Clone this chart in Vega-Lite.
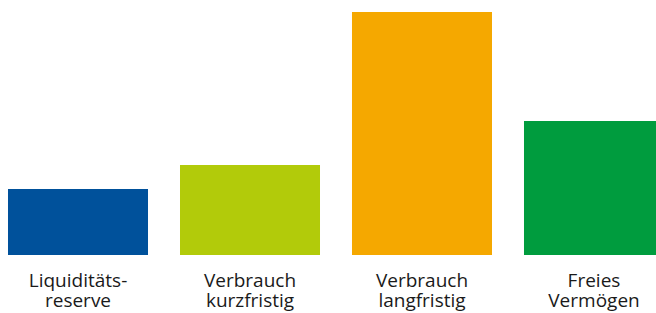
{
  "$schema": "https://vega.github.io/schema/vega-lite/v6.json",
  "width": 672,
  "height": 255,
  "padding": {"left": 0, "top": 0, "right": 0, "bottom": 58},
  "autosize": "none",
  "background": "white",
  "config": {"view": {"stroke": null}},
  "data": {"values": [
    {"kategorie": "Liquiditäts-|reserve", "wert": 66},
    {"kategorie": "Verbrauch|kurzfristig", "wert": 90},
    {"kategorie": "Verbrauch|langfristig", "wert": 243},
    {"kategorie": "Freies|Vermögen", "wert": 134}
  ]},
  "mark": {"type": "bar"},
  "encoding": {
    "x": {
      "field": "kategorie", "type": "nominal", "sort": null,
      "scale": {"paddingInner": 0.186, "paddingOuter": 0.0465},
      "axis": {
        "title": null, "domain": false, "ticks": false, "labelAngle": 0,
        "labelExpr": "split(datum.label, '|')",
        "labelFont": "Open Sans", "labelFontSize": 19, "labelColor": "#1a1a1a",
        "labelPadding": 16, "labelLineHeight": 20
      }
    },
    "y": {
      "field": "wert", "type": "quantitative",
      "scale": {"domain": [0, 255], "nice": false},
      "axis": null
    },
    "color": {
      "field": "kategorie", "type": "nominal", "sort": null, "legend": null,
      "scale": {
        "domain": ["Liquiditäts-|reserve", "Verbrauch|kurzfristig", "Verbrauch|langfristig", "Freies|Vermögen"],
        "range": ["#00519b", "#b2cb0a", "#f5a800", "#009c3e"]
      }
    }
  }
}
